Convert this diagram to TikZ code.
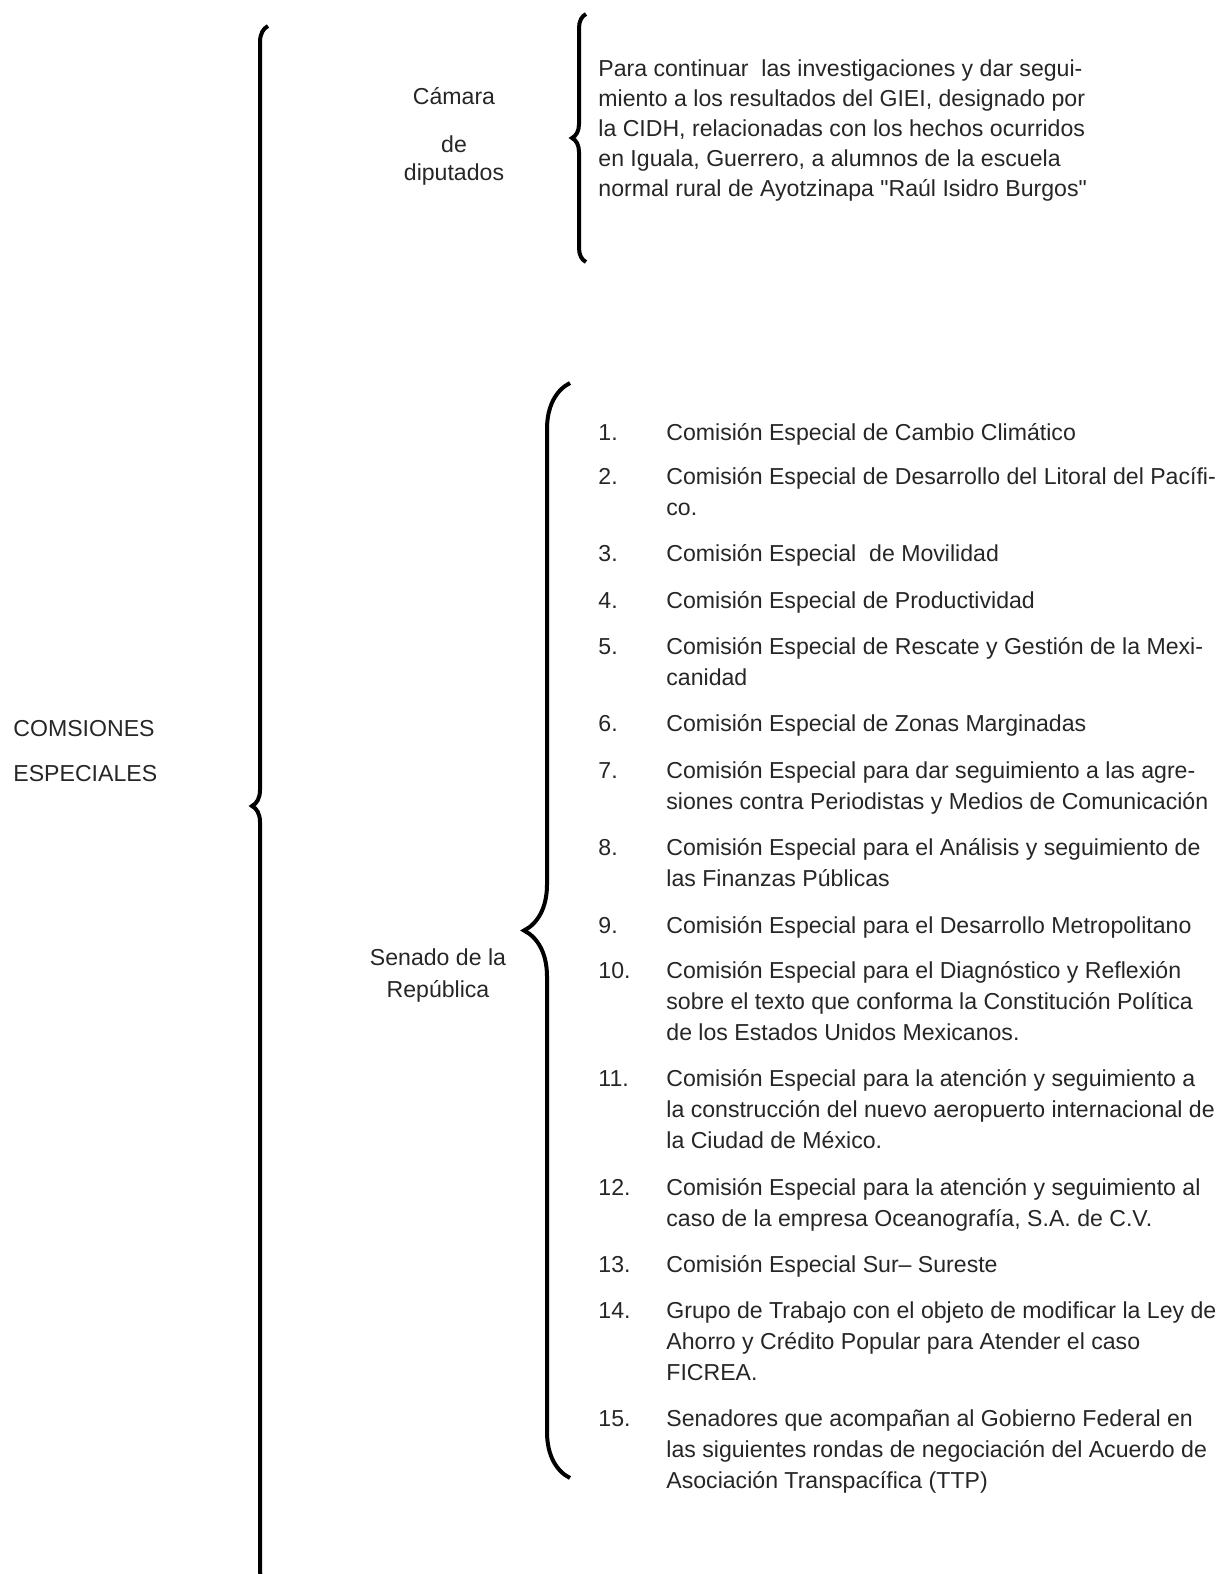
\documentclass[tikz,border=0pt]{standalone}
\usepackage{fontspec}
\setmainfont{Liberation Sans}
\usepackage{tikz}
\usetikzlibrary{decorations.pathreplacing, positioning}

\begin{document}
\begin{tikzpicture}[x=0.5pt, y=-0.5pt,
    every node/.style={inner sep=0pt, text=black!85, font=\fontsize{11.55}{15.5}\selectfont},
    bracepath/.style={decorate, decoration={brace, amplitude=#1}, line width=2pt, black},
    numlabel/.style={anchor=base west},
    itemtext/.style={anchor=north west, align=left}]
    \useasboundingbox (0,0) rectangle (1227,1574);

    % Left title
    \node[anchor=north west, align=left] (titulo) at (13,714) {\strut COMSIONES\\[7pt]ESPECIALES};

    % Big brace (runs off the bottom)
    \coordinate (grantop) at (268,26);
    \coordinate (granbot) at (268,1586);
    \draw[bracepath=8pt] (granbot) -- (grantop);

    % Camara de diputados
    \node[anchor=north, align=center, font=\fontsize{11.55}{14}\selectfont] (camara) at (454,84) {\strut C\'amara\\[10pt]de\\diputados};
    \coordinate (camtop) at (586,14);
    \coordinate (cambot) at (586,262);
    \draw[bracepath=7pt] (cambot) -- (camtop);
    \node[anchor=north west, align=left, font=\fontsize{11.55}{15}\selectfont] (giei) at (598,55)
        {\strut Para continuar\ \ las investigaciones y dar segui-\\miento a los resultados del GIEI, designado por\\la CIDH, relacionadas con los hechos ocurridos\\en Iguala, Guerrero, a alumnos de la escuela\\normal rural de Ayotzinapa \textquotedbl Raúl Isidro Burgos\textquotedbl};

    % Senado de la Republica
    \node[anchor=north, align=center, font=\fontsize{11.55}{16}\selectfont] (senado) at (438,943) {\strut Senado de la\\República};
    \coordinate (sentop) at (570,383);
    \coordinate (senbot) at (570,1478);
    \draw[bracepath=23pt] (senbot) -- (sentop);

    % List of commissions
    \coordinate (colx) at (666,0);
    \node[numlabel] (n1) at (598,440) {\strut 1.};
    \node[itemtext] (c1) at (n1.north west -| colx) {\strut Comisión Especial de Cambio Climático};
    \node[numlabel] (n2) at (598,484) {\strut 2.};
    \node[itemtext] (c2) at (n2.north west -| colx) {\strut Comisión Especial de Desarrollo del Litoral del Pacífi-\\co.};
    \node[numlabel] (n3) at (598,561) {\strut 3.};
    \node[itemtext] (c3) at (n3.north west -| colx) {\strut Comisión Especial\ \ de Movilidad};
    \node[numlabel] (n4) at (598,608) {\strut 4.};
    \node[itemtext] (c4) at (n4.north west -| colx) {\strut Comisión Especial de Productividad};
    \node[numlabel] (n5) at (598,654) {\strut 5.};
    \node[itemtext] (c5) at (n5.north west -| colx) {\strut Comisión Especial de Rescate y Gestión de la Mexi-\\canidad};
    \node[numlabel] (n6) at (598,731) {\strut 6.};
    \node[itemtext] (c6) at (n6.north west -| colx) {\strut Comisión Especial de Zonas Marginadas};
    \node[numlabel] (n7) at (598,778) {\strut 7.};
    \node[itemtext] (c7) at (n7.north west -| colx) {\strut Comisión Especial para dar seguimiento a las agre-\\siones contra Periodistas y Medios de Comunicación};
    \node[numlabel] (n8) at (598,855) {\strut 8.};
    \node[itemtext] (c8) at (n8.north west -| colx) {\strut Comisión Especial para el Análisis y seguimiento de\\las Finanzas Públicas};
    \node[numlabel] (n9) at (598,933) {\strut 9.};
    \node[itemtext] (c9) at (n9.north west -| colx) {\strut Comisión Especial para el Desarrollo Metropolitano};
    \node[numlabel] (n10) at (598,978) {\strut 10.};
    \node[itemtext] (c10) at (n10.north west -| colx) {\strut Comisión Especial para el Diagnóstico y Reflexión\\sobre el texto que conforma la Constitución Política\\de los Estados Unidos Mexicanos.};
    \node[numlabel] (n11) at (598,1086) {\strut 11.};
    \node[itemtext] (c11) at (n11.north west -| colx) {\strut Comisión Especial para la atención y seguimiento a\\la construcción del nuevo aeropuerto internacional de\\la Ciudad de México.};
    \node[numlabel] (n12) at (598,1195) {\strut 12.};
    \node[itemtext] (c12) at (n12.north west -| colx) {\strut Comisión Especial para la atención y seguimiento al\\caso de la empresa Oceanografía, S.A. de C.V.};
    \node[numlabel] (n13) at (598,1272) {\strut 13.};
    \node[itemtext] (c13) at (n13.north west -| colx) {\strut Comisión Especial Sur– Sureste};
    \node[numlabel] (n14) at (598,1318) {\strut 14.};
    \node[itemtext] (c14) at (n14.north west -| colx) {\strut Grupo de Trabajo con el objeto de modificar la Ley de\\Ahorro y Crédito Popular para Atender el caso\\FICREA.};
    \node[numlabel] (n15) at (598,1426) {\strut 15.};
    \node[itemtext] (c15) at (n15.north west -| colx) {\strut Senadores que acompañan al Gobierno Federal en\\las siguientes rondas de negociación del Acuerdo de\\Asociación Transpacífica (TTP)};
\end{tikzpicture}
\end{document}
